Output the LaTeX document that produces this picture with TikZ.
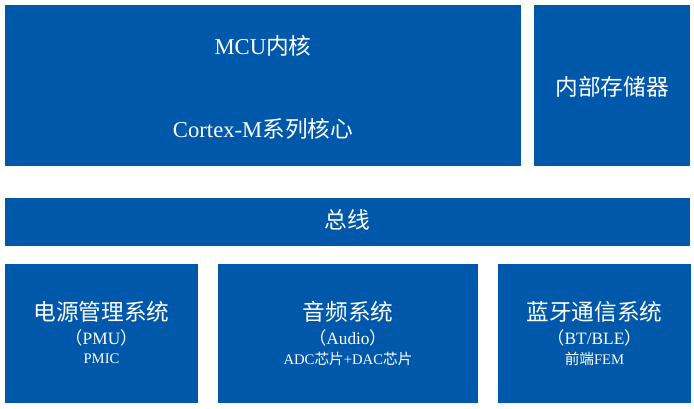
\documentclass[tikz,border=0pt]{standalone}
\usepackage{fontspec}
\setmainfont{Liberation Serif}
\newfontfamily\cjk{Noto Sans CJK SC}
\definecolor{blockblue}{RGB}{0,88,170}

\begin{document}
\begin{tikzpicture}
  [
    x = 0.75pt, y = -0.75pt,
    block/.style = {shape=rectangle, fill=blockblue, inner sep=0pt},
    title/.style = {text=white, inner sep=0pt, font=\fontsize{17pt}{20pt}\selectfont},
    small/.style = {text=white, inner sep=0pt, font=\fontsize{11pt}{13pt}\selectfont}
  ]
  \useasboundingbox (0,0) rectangle (694,408);
  % upper row
  \node [block, minimum width=387pt, minimum height=120.75pt] (mcu) at (263,85.5) {};
  \node [block, minimum width=117pt, minimum height=120.75pt] (memory) at (612,85.5) {};
  \node [title] (mcutitle) at (263,46) {MCU{\cjk 内核}};
  \node [title] (mcucore) at (263,129) {Cortex-M{\cjk 系列核心}};
  \node [title] (memtitle) at (612,87) {\cjk 内部存储器};
  % bus
  \node [block, minimum width=513.75pt, minimum height=36pt] (bus) at (347.5,222) {};
  \node [title] (bustitle) at (347.5,220) {\cjk 总线};
  % lower row
  \node [block, minimum width=144.75pt, minimum height=104.25pt] (pmu) at (101.5,333.5) {};
  \node [block, minimum width=195pt, minimum height=104.25pt] (audio) at (348,333.5) {};
  \node [block, minimum width=144.75pt, minimum height=104.25pt] (bt) at (594.5,333.5) {};
  \node [title] (pmutitle) at (101.5,312) {\cjk 电源管理系统};
  \node [small, font=\fontsize{13pt}{15pt}\selectfont] (pmuname) at (101.5,338) {{\cjk （}PMU{\cjk ）}};
  \node [small] (pmuchip) at (101.5,359) {PMIC};
  \node [title] (audiotitle) at (348,312) {\cjk 音频系统};
  \node [small, font=\fontsize{13pt}{15pt}\selectfont] (audioname) at (348,338) {{\cjk （}Audio{\cjk ）}};
  \node [small] (audiochip) at (348,359) {ADC{\cjk 芯片}+DAC{\cjk 芯片}};
  \node [title] (bttitle) at (594.5,312) {\cjk 蓝牙通信系统};
  \node [small, font=\fontsize{13pt}{15pt}\selectfont] (btname) at (594.5,338) {{\cjk （}BT/BLE{\cjk ）}};
  \node [small] (btchip) at (594.5,359) {{\cjk 前端}FEM};
\end{tikzpicture}
\end{document}
